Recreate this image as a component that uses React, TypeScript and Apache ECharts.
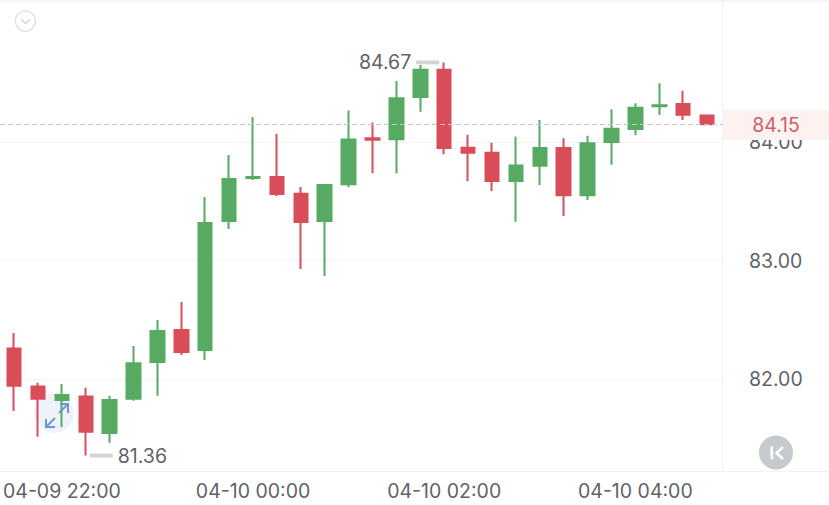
import React, { useEffect, useRef } from "react";
import * as echarts from "echarts";

const categories = [
  "04-09 21:30", "04-09 21:45", "04-09 22:00", "04-09 22:15", "04-09 22:30", "04-09 22:45",
  "04-09 23:00", "04-09 23:15", "04-09 23:30", "04-09 23:45", "04-10 00:00", "04-10 00:15",
  "04-10 00:30", "04-10 00:45", "04-10 01:00", "04-10 01:15", "04-10 01:30", "04-10 01:45",
  "04-10 02:00", "04-10 02:15", "04-10 02:30", "04-10 02:45", "04-10 03:00", "04-10 03:15",
  "04-10 03:30", "04-10 03:45", "04-10 04:00", "04-10 04:15", "04-10 04:30", "04-10 04:45",
];
const opens = [
  82.26, 81.94, 81.827, 81.856, 81.549, 81.838, 82.147, 82.417, 82.248, 83.334,
  83.696, 83.706, 83.563, 83.334, 83.643, 84.032, 84.022, 84.379, 84.609, 83.952,
  83.91, 83.671, 83.8, 83.95, 83.551, 84.0, 84.109, 84.3, 84.32, 84.222,
];
const closes = [
  81.947, 81.838, 81.87, 81.56, 81.828, 82.137, 82.409, 82.231, 83.318, 83.689,
  83.706, 83.562, 83.326, 83.638, 84.02, 84.019, 84.368, 84.609, 83.949, 83.909,
  83.671, 83.801, 83.95, 83.551, 83.989, 84.112, 84.289, 84.309, 84.229, 84.15,
];
const lows = [
  81.735, 81.518, 81.6, 81.36, 81.468, 81.821, 81.864, 82.206, 82.164, 83.267,
  83.68, 83.545, 82.931, 82.872, 83.619, 83.736, 83.736, 84.255, 83.896, 83.669,
  83.587, 83.329, 83.638, 83.377, 83.512, 83.809, 84.056, 84.227, 84.185, 84.15,
];
const highs = [
  82.392, 81.973, 81.962, 81.931, 81.864, 82.282, 82.501, 82.653, 83.537, 83.891,
  84.211, 84.067, 83.621, 83.646, 84.264, 84.163, 84.514, 84.648, 84.67, 84.061,
  83.994, 84.045, 84.185, 84.031, 84.053, 84.275, 84.326, 84.494, 84.432, 84.222,
];
const priceTicks = [82, 83, 84];
const lastPrice = 84.15;
const highMark = { index: 18, value: 84.67 };
const lowMark = { index: 3, value: 81.36 };

const FONT = "Inter";
const FONT_SIZE = 19.5;
const GREEN = "#56aa62";
const RED = "#d94d59";
const TEXT = "#5f6368";
const LINE = "#f3f3f3";

export default function App() {
  const ref = useRef<HTMLDivElement>(null);

  useEffect(() => {
    const chart = echarts.init(ref.current!, undefined, { renderer: "svg" });
    const yRange = { min: 81.2295, max: 85.187 };
    chart.setOption({
      animation: false,
      backgroundColor: "#ffffff",
      grid: [
        { left: 0, width: 723, top: 1, height: 470 },
        { left: 2, width: 717, top: 1, height: 470 },
      ],
      xAxis: [
        { type: "value", gridIndex: 0, min: 0, max: 1, show: false },
        {
          type: "category",
          gridIndex: 1,
          data: categories,
          axisLine: { show: false },
          axisTick: { show: false },
          splitLine: { show: false },
          axisLabel: {
            interval: (i: number) => i % 8 === 2,
            margin: 9.5,
            color: TEXT,
            fontFamily: FONT,
            fontSize: FONT_SIZE,
          },
        },
      ],
      yAxis: [
        {
          type: "value",
          gridIndex: 0,
          position: "right",
          ...yRange,
          axisLine: { show: false },
          axisTick: { show: false, customValues: priceTicks },
          splitLine: { show: true, lineStyle: { color: LINE, width: 1 } },
          axisLabel: {
            customValues: priceTicks,
            formatter: (v: number) => v.toFixed(2),
            margin: 26,
            color: TEXT,
            fontFamily: FONT,
            fontSize: FONT_SIZE,
          },
        },
        { type: "value", gridIndex: 1, ...yRange, show: false, splitLine: { show: false } },
      ],
      series: [
        {
          type: "line",
          xAxisIndex: 0,
          yAxisIndex: 0,
          data: [],
          silent: true,
          markLine: {
            silent: true,
            symbol: "none",
            label: { show: false },
            lineStyle: { color: "#c6c6c6", type: [5, 3], width: 1 },
            data: [{ yAxis: lastPrice }],
          },
        },
        {
          type: "candlestick",
          xAxisIndex: 1,
          yAxisIndex: 1,
          barWidth: 14,
          z: 3,
          itemStyle: {
            color: GREEN,
            color0: RED,
            borderColor: GREEN,
            borderColor0: RED,
            borderWidth: 2,
          },
          data: categories.map((_, i) => [opens[i], closes[i], lows[i], highs[i]]),
          markPoint: {
            silent: true,
            animation: false,
            data: [
              {
                coord: [highMark.index, highMark.value],
                symbol: "rect",
                symbolSize: [23, 4],
                symbolOffset: [-16.5, 0],
                itemStyle: { color: "#d4d4d4" },
                label: {
                  show: true,
                  position: "left",
                  distance: 5,
                  formatter: highMark.value.toFixed(2),
                  color: TEXT,
                  fontFamily: FONT,
                  fontSize: FONT_SIZE,
                },
              },
              {
                coord: [lowMark.index, lowMark.value],
                symbol: "rect",
                symbolSize: [23, 4],
                symbolOffset: [15.5, 0],
                itemStyle: { color: "#d4d4d4" },
                label: {
                  show: true,
                  position: "right",
                  distance: 5,
                  formatter: lowMark.value.toFixed(2),
                  color: TEXT,
                  fontFamily: FONT,
                  fontSize: FONT_SIZE,
                },
              },
            ],
          },
        },
      ],
      graphic: [
        { type: "rect", z: 1, shape: { x: 0, y: 0, width: 829, height: 2 }, style: { fill: "#f5f5f5" } },
        { type: "line", z: 1, shape: { x1: 0, y1: 471.5, x2: 829, y2: 471.5 }, style: { stroke: "#f0f0f0", lineWidth: 1 } },
        { type: "line", z: 1, shape: { x1: 722.5, y1: 0, x2: 722.5, y2: 471 }, style: { stroke: "#f3f3f3", lineWidth: 1 } },
        // price badge
        { type: "rect", z: 20, shape: { x: 723, y: 110, width: 106, height: 30 }, style: { fill: "#fdf2f0" } },
        {
          type: "text", z: 21, x: 776, y: 125,
          style: {
            text: lastPrice.toFixed(2), fill: "#cf5f6b", font: `${FONT_SIZE}px ${FONT}`,
            textAlign: "center", textVerticalAlign: "middle",
          },
        },
        // top-left collapse icon
        { type: "circle", z: 20, shape: { cx: 25.5, cy: 21, r: 10 }, style: { fill: "#ffffff", stroke: "#d7dce2", lineWidth: 1.2 } },
        { type: "polyline", z: 20, shape: { points: [[21, 19.5], [25.5, 23.5], [30, 19.5]] }, style: { fill: "none", stroke: "#c8cdd3", lineWidth: 1.2 } },
        // expand badge
        { type: "circle", z: 1, shape: { cx: 54, cy: 413, r: 20 }, style: { fill: "#eef3fb" } },
        { type: "polyline", z: 20, shape: { points: [[46, 419], [46, 427], [55, 427]] }, style: { fill: "none", stroke: "#6c97d2", lineWidth: 2 } },
        { type: "line", z: 20, shape: { x1: 46, y1: 427, x2: 55, y2: 418 }, style: { stroke: "#6c97d2", lineWidth: 2 } },
        { type: "polyline", z: 20, shape: { points: [[60, 404], [68, 404], [68, 413]] }, style: { fill: "none", stroke: "#6c97d2", lineWidth: 2 } },
        { type: "line", z: 20, shape: { x1: 68, y1: 404, x2: 59, y2: 413 }, style: { stroke: "#6c97d2", lineWidth: 2 } },
        // K button
        { type: "circle", z: 20, shape: { cx: 776, cy: 452.5, r: 17 }, style: { fill: "#c7cacd" } },
        { type: "rect", z: 21, shape: { x: 770.5, y: 446.5, width: 2.6, height: 12.5 }, style: { fill: "#ffffff" } },
        { type: "polyline", z: 21, shape: { points: [[783, 447], [776.5, 453], [783, 459]] }, style: { fill: "none", stroke: "#ffffff", lineWidth: 2.4 } },
      ],
    });
    return () => chart.dispose();
  }, []);

  return <div ref={ref} style={{ position: "absolute", left: 0, top: 0, width: 829, height: 505 }} />;
}
